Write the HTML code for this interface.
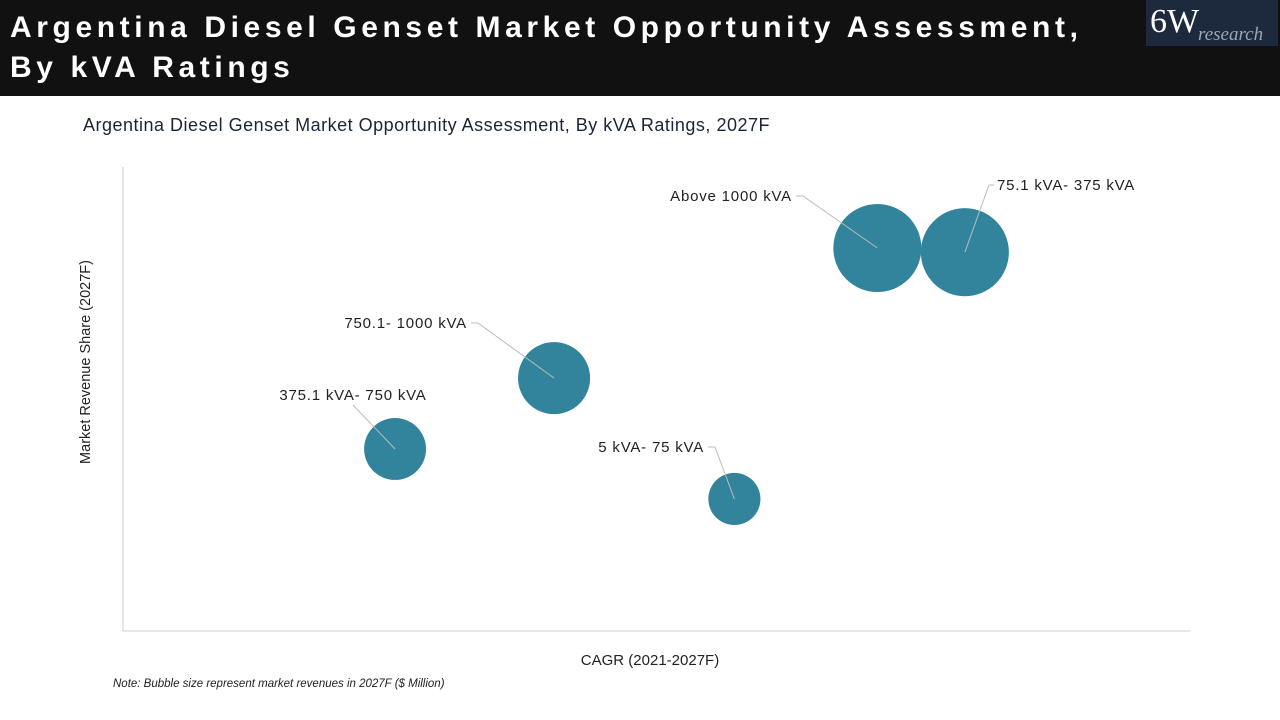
<!DOCTYPE html>
<html><head><meta charset="utf-8">
<style>
body{margin:0;width:1280px;height:720px;background:#fff;font-family:"Liberation Sans",sans-serif;overflow:hidden;position:relative}
#hdr{position:absolute;left:0;top:0;width:1280px;height:96px;background:#111}
#ttl{position:absolute;left:10px;top:8px;color:#fff;font-size:30px;font-weight:bold;letter-spacing:4.6px;line-height:40px}
#logo{position:absolute;left:1146px;top:0;width:132px;height:46px;background:#1d2a3e}
#logo .a{position:absolute;left:4px;top:3px;color:#fff;font-family:"Liberation Serif",serif;font-size:34px;line-height:38px}
#logo .b{position:absolute;left:52px;top:24px;color:#9aa7b8;font-family:"Liberation Serif",serif;font-style:italic;font-size:19px}
#sub{position:absolute;left:83px;top:115px;font-size:18px;letter-spacing:0.5px;color:#1b2536}
#note{position:absolute;left:113px;top:678px;font-size:11.5px;font-style:italic;color:#222}
</style></head><body>
<div id="hdr">
<div id="ttl">Argentina Diesel Genset Market Opportunity Assessment,<br>By kVA Ratings</div>
<div id="logo"><span class="a">6W</span><span class="b">research</span></div>
</div>
<div id="sub">Argentina Diesel Genset Market Opportunity Assessment, By kVA Ratings, 2027F</div>
<svg id="chart" width="1280" height="720" style="position:absolute;left:0;top:0">
<line x1="123" y1="167" x2="123" y2="631" stroke="#ccc"/>
<line x1="123" y1="631" x2="1190" y2="631" stroke="#ccc"/>
<text x="650" y="665" text-anchor="middle" font-size="15" fill="#222">CAGR (2021-2027F)</text>
<text transform="translate(90,362) rotate(-90)" text-anchor="middle" font-size="14.5" fill="#222">Market Revenue Share (2027F)</text>
<g id="marks"></g>
</svg>
<div id="note">Note: Bubble size represent market revenues in 2027F ($ Million)</div>
<script>
const categories=["Above 1000 kVA","75.1 kVA- 375 kVA","750.1- 1000 kVA","375.1 kVA- 750 kVA","5 kVA- 75 kVA"];
const cagr=[70.7,78.9,40.4,25.5,57.3];
const share=[82.5,81.6,54.4,39.1,28.3];
const revenue=[194,194,130,96,68];
const labelPos=[[792,196,"end",-5],[997,185,"start",-4],[467,323,"end",4],[353,395,"middle",0],[704,447,"end",4]];
const X=v=>123+v/100*1067, Y=v=>630-v/100*463, R=v=>Math.sqrt(v)*3.16;
const g=document.getElementById('marks'),NS="http://www.w3.org/2000/svg";
categories.forEach((c,i)=>{
 const cx=X(cagr[i]),cy=Y(share[i]),r=R(revenue[i]);
 const ci=document.createElementNS(NS,'circle');
 ci.setAttribute('cx',cx);ci.setAttribute('cy',cy);ci.setAttribute('r',r);ci.setAttribute('fill','#31849b');
 
 
 g.appendChild(ci);
 const [lx,ly,anc,dx]=labelPos[i];
 const p=document.createElementNS(NS,'polyline');
 let pts;
 if(anc==="middle") pts=`${lx},${ly+10} ${cx},${cy}`;
 else if(anc==="end") pts=`${lx+4},${ly} ${lx+11},${ly} ${cx},${cy}`;
 else pts=`${lx-3},${ly} ${lx-8},${ly} ${cx},${cy}`;
 p.setAttribute('points',pts);p.setAttribute('fill','none');p.setAttribute('stroke','#bbb');p.setAttribute('stroke-width','1');
 
 
 g.appendChild(p);
 const t=document.createElementNS(NS,'text');
 t.setAttribute('x',lx);t.setAttribute('y',ly+5);t.setAttribute('text-anchor',anc);t.setAttribute('font-size','15');t.setAttribute('letter-spacing','0.8');t.setAttribute('fill','#222');
 t.textContent=c;
 
 
 g.appendChild(t);
});
</script>
</body></html>
